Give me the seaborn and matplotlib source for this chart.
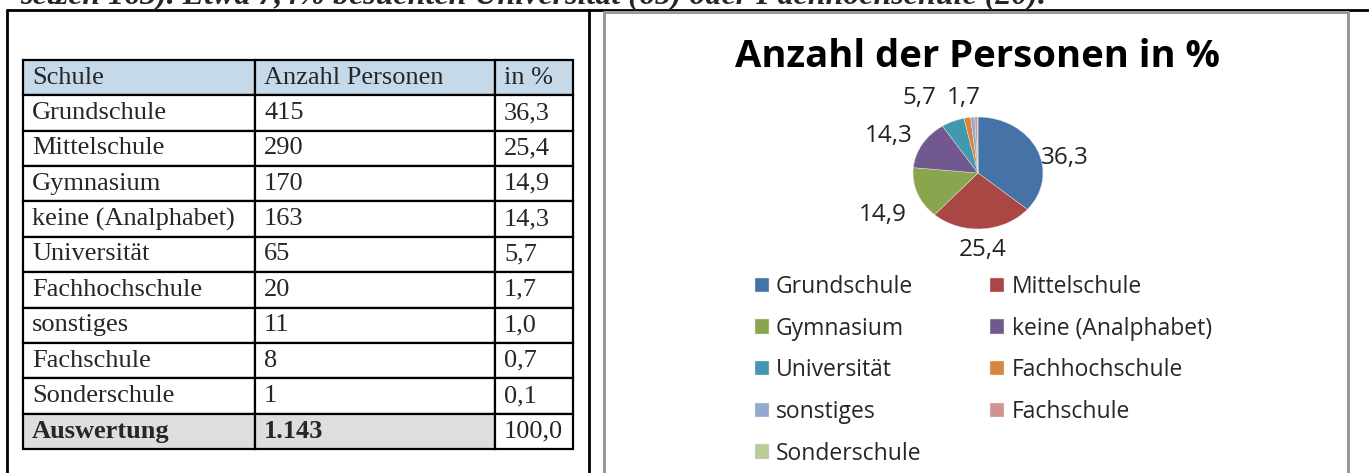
import matplotlib
matplotlib.use("Agg")
import matplotlib.pyplot as plt
import seaborn as sns
from matplotlib.lines import Line2D

# Daten aus der Tabelle
schulen = ["Grundschule", "Mittelschule", "Gymnasium", "keine (Analphabet)",
           "Universität", "Fachhochschule", "sonstiges", "Fachschule", "Sonderschule"]
anzahl = ["415", "290", "170", "163", "65", "20", "11", "8", "1"]
prozent = [36.3, 25.4, 14.9, 14.3, 5.7, 1.7, 1.0, 0.7, 0.1]
kopfzeile = ["Schule", "Anzahl Personen", "in %"]
summenzeile = ["Auswertung", "1.143", "100,0"]
# nur Werte ab 1,7 werden im Diagramm beschriftet
beschriftet = [True, True, True, True, True, True, False, False, False]

farben = ["#4572A7", "#AA4643", "#89A54E", "#71588F", "#4198AF",
          "#DB843D", "#93A9CF", "#D19392", "#B9CD96"]

oben_text = "setzen 163). Etwa 7,4% besuchten Universität (65) oder Fachhochschule (20)."

W, H = 1369, 473


def fx(x):
    return x / W


def fy(y):
    return 1 - y / H


def de(v):
    return f"{v:.1f}".replace(".", ",")


sns.set_theme(style="white")
plt.rcParams['font.family'] = ['Open Sans', 'DejaVu Sans']

fig = plt.figure(figsize=(W / 100, H / 100), dpi=100)

# abgeschnittener Fliesstext oben
fig.text(fx(20), fy(3), oben_text, family="Liberation Serif", fontweight="bold",
         style="italic", fontsize=23, ha="left", va="baseline")

# Rahmen der umgebenden Word-Tabelle
lw = 2
fig.add_artist(Line2D([fx(7), 1], [fy(10), fy(10)], color="black", lw=lw))
fig.add_artist(Line2D([fx(7), fx(7)], [fy(10), 0], color="black", lw=lw))
fig.add_artist(Line2D([fx(589), fx(589)], [fy(10), 0], color="black", lw=lw))
# grauer Rahmen des Diagramms
fig.add_artist(Line2D([fx(604), fx(604)], [fy(12), 0], color="#9a9a9a", lw=2.2))
fig.add_artist(Line2D([fx(604), fx(1348)], [fy(12), fy(12)], color="#9a9a9a", lw=2.2))
fig.add_artist(Line2D([fx(1348), fx(1348)], [fy(12), 0], color="#9a9a9a", lw=2.2))

# Tabelle links
col_px = [232, 240, 78]
ax_tab = fig.add_axes([fx(23), fy(449), fx(573 - 23), (449 - 60) / H])
ax_tab.axis("off")
zeilen = [kopfzeile] + [[s, a, de(p)] for s, a, p in zip(schulen, anzahl, prozent)] + [summenzeile]
tab = ax_tab.table(cellText=zeilen, colWidths=[c / sum(col_px) for c in col_px],
                   cellLoc="left", bbox=[0, 0, 1, 1])
tab.auto_set_font_size(False)
tab.set_fontsize(19)
n = len(zeilen)
for (r, c), cell in tab.get_celld().items():
    cell.set_linewidth(1.6)
    cell.set_edgecolor("black")
    cell.PAD = 9 / col_px[c]
    cell.get_text().set_family("Liberation Serif")
    if r == 0:
        cell.set_facecolor("#c6d9e8")
    elif r == n - 1 and c < 2:
        cell.set_facecolor("#dedede")
        cell.get_text().set_fontweight("bold")
    else:
        cell.set_facecolor("white")

# Kreisdiagramm rechts
fig.text(fx(977), fy(57), "Anzahl der Personen in %", ha="center", va="center",
         fontsize=27.5, fontweight="bold", color="black")

ax_pie = fig.add_axes([fx(913), fy(229), fx(130), 112 / H])
etiketten = [de(p) if b else "" for p, b in zip(prozent, beschriftet)]
wedges, texte = ax_pie.pie(prozent, colors=farben, startangle=90, counterclock=False,
                           labels=etiketten, labeldistance=1.18,
                           wedgeprops=dict(linewidth=0.3, edgecolor="#e8e8e8"),
                           textprops=dict(fontsize=17.5, color="#222222"))
ax_pie.set_aspect("auto")
ax_pie.set_xlim(-1, 1)
ax_pie.set_ylim(-1, 1)

# Beschriftungen etwa wie die Excel-"Optimale Anpassung" verschieben
for t in texte:
    x, y = t.get_position()
    if abs(x) < 0.3 and y < 0:
        t.set_ha("center")
        t.set_y(y - 0.2)
x4 = texte[4].get_position()[0]
texte[4].set_ha("right")
texte[4].set_position((x4 - 0.18, 1.34))
texte[5].set_ha("left")
texte[5].set_position((x4 - 0.02, 1.34))
x0, y0 = texte[0].get_position()
texte[0].set_position((x0 - 0.1, y0 - 0.22))
texte[2].set_y(texte[2].get_position()[1] - 0.33)
texte[3].set_y(texte[3].get_position()[1] + 0.05)

# Legende zeilenweise wie in Excel
reihenfolge = [0, 2, 4, 6, 8, 1, 3, 5, 7]
fig.legend([wedges[i] for i in reihenfolge], [schulen[i] for i in reihenfolge],
           ncol=2, loc="upper left", bbox_to_anchor=(fx(755), fy(275)),
           frameon=False, fontsize=16.5, handlelength=0.6, handleheight=0.6,
           handletextpad=0.32, columnspacing=3.0, labelspacing=0.77,
           borderaxespad=0, borderpad=0)

plt.savefig("out.png", dpi=100)
plt.close()
